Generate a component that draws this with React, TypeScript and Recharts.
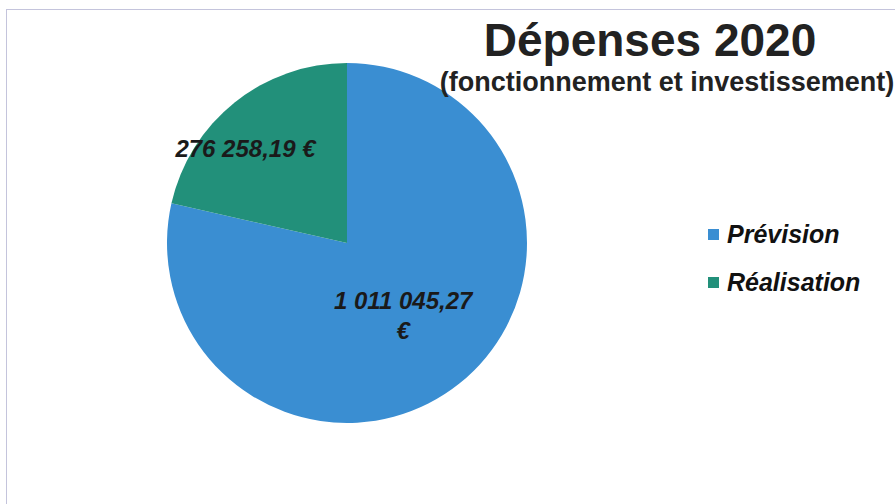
import React from "react";
import { PieChart, Pie, Cell } from "recharts";

const categories = ["Prévision", "Réalisation"];
const values = [1011045.27, 276258.19];
const valueLabels = [["1 011 045,27", "€"], ["276 258,19 €"]];
const colors = ["#3a8ed2", "#22907a"];

const data = categories.map((name, i) => ({ name, value: values[i] }));

const RAD = Math.PI / 180;
const labelRadius = [0.5, 0.77];
const labelShift = [
  [0, -12],
  [-15, 14],
];

const renderLabel = (props: any) => {
  const { cx, cy, midAngle, outerRadius, index } = props;
  const r = outerRadius * labelRadius[index];
  const x = cx + r * Math.cos(-midAngle * RAD) + labelShift[index][0];
  const y = cy + r * Math.sin(-midAngle * RAD) + labelShift[index][1];
  const lines = valueLabels[index];
  return (
    <text
      x={x}
      y={y}
      textAnchor="middle"
      fontFamily="'Liberation Sans', Arial, sans-serif"
      fontWeight="bold"
      fontStyle="italic"
      fontSize={24}
      fill="#1a1a1a"
    >
      {lines.map((l, k) => (
        <tspan key={k} x={x} dy={k === 0 ? 8 : 30}>
          {l}
        </tspan>
      ))}
    </text>
  );
};

const LegendBlock = () => (
  <div
    style={{
      position: "absolute",
      left: 708,
      top: 221,
      fontFamily: "'Liberation Sans', Arial, sans-serif",
    }}
  >
    {categories.map((c, i) => (
      <div
        key={c}
        style={{ display: "flex", alignItems: "center", height: 26, marginBottom: 22 }}
      >
        <div style={{ width: 11, height: 11, background: colors[i], marginRight: 8 }} />
        <span style={{ fontSize: 25, fontWeight: "bold", fontStyle: "italic", color: "#111" }}>
          {c}
        </span>
      </div>
    ))}
  </div>
);

export default function App() {
  return (
    <div
      style={{
        position: "absolute",
        left: 0,
        top: 0,
        width: 895,
        height: 504,
        background: "#fff",
        overflow: "hidden",
      }}
    >
      <div
        style={{
          position: "absolute",
          left: 6,
          top: 9,
          width: 900,
          height: 500,
          borderLeft: "1px solid #c4c4dc",
          borderTop: "1px solid #c4c4dc",
        }}
      />
      <div style={{ position: "absolute", left: 0, top: 0 }}>
        <PieChart width={895} height={504} margin={{ top: 0, right: 0, bottom: 0, left: 0 }}>
          <Pie
            data={data}
            dataKey="value"
            nameKey="name"
            cx={347}
            cy={243}
            outerRadius={180}
            startAngle={90}
            endAngle={-270}
            stroke="none"
            label={renderLabel}
            labelLine={false}
            isAnimationActive={false}
          >
            {data.map((d, i) => (
              <Cell key={d.name} fill={colors[i]} />
            ))}
          </Pie>
        </PieChart>
      </div>
      <LegendBlock />
      <div
        style={{
          position: "absolute",
          left: 400,
          top: 14,
          width: 500,
          textAlign: "center",
          fontFamily: "'Liberation Sans', Arial, sans-serif",
          fontWeight: "bold",
          fontSize: 46,
          lineHeight: "52px",
          color: "#222",
        }}
      >
        Dépenses 2020
      </div>
      <div
        style={{
          position: "absolute",
          left: 417,
          top: 66,
          width: 500,
          textAlign: "center",
          fontFamily: "'Liberation Sans', Arial, sans-serif",
          fontWeight: "bold",
          fontSize: 27,
          lineHeight: "32px",
          color: "#222",
          whiteSpace: "nowrap",
        }}
      >
        (fonctionnement et investissement)
      </div>
    </div>
  );
}
